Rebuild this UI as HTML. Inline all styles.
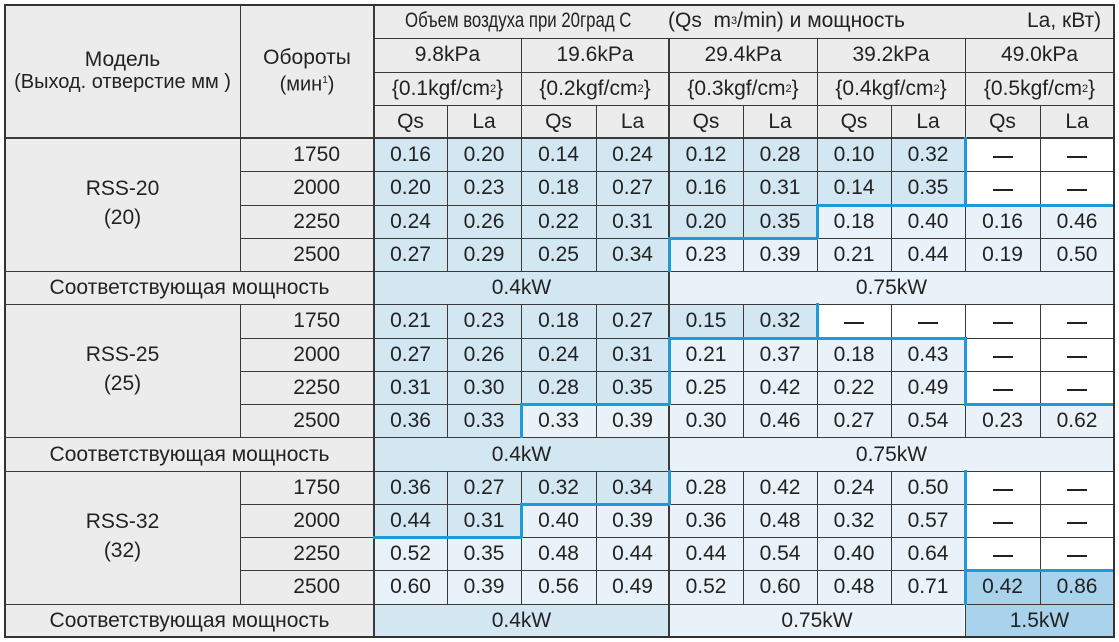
<!DOCTYPE html>
<html><head><meta charset="utf-8"><style>
body{margin:0;width:1119px;height:642px;background:#fff;position:relative;overflow:hidden;font-family:"Liberation Sans",sans-serif;color:#222}
.c{position:absolute;box-sizing:border-box;display:flex;align-items:center;justify-content:center;font-size:21px;white-space:nowrap}
.ln{position:absolute;background:#3a3a3a}
.bl{position:absolute;background:#1e9bd7}
</style></head><body>
<div id="r"></div>
<script>
var X=[5,240,374,447,521,596,669,743,817,891,965,1040,1114];
function Y(i){return Math.round(5+i*33.26);}
var H='';
function cell(x1,y1,x2,y2,bg,txt,st){H+='<div class="c" style="left:'+x1+'px;top:'+y1+'px;width:'+(x2-x1)+'px;height:'+(y2-y1)+'px;background:'+bg+';'+(st||'')+'">'+(txt||'')+'</div>';}
var G='#ececec',CL={B:'#d3e7f3',L:'#e8f2f8',W:'#ffffff',D:'#a9d3ec'};
cell(5,5,1114,Y(4),G);
var P=['9.8kPa','19.6kPa','29.4kPa','39.2kPa','49.0kPa'];
for(var k=0;k<5;k++){
 cell(X[2+2*k],Y(1),X[4+2*k],Y(2),G,P[k]);
 cell(X[2+2*k],Y(2),X[4+2*k],Y(3),G,'{0.'+(k+1)+'kgf/cm<sup style="font-size:11px">2</sup>}');
 cell(X[2+2*k],Y(3),X[3+2*k],Y(4),G,'Qs');cell(X[3+2*k],Y(3),X[4+2*k],Y(4),G,'La');
}
H+='<div class="c" style="left:5px;top:46px;width:235px;height:50px;flex-direction:column;line-height:23px">Модель<span style="font-size:20px">(Выход. отверстие мм )</span></div>';
H+='<div class="c" style="left:240px;top:46px;width:134px;height:50px;flex-direction:column;line-height:23px">Обороты<span style="font-size:20px">(мин<sup style="font-size:10px">1</sup>)</span></div>';
H+='<div class="c" style="left:405px;top:6px;height:30px;justify-content:flex-start;font-size:21px;transform:scaleX(0.8);transform-origin:left">Объем воздуха при 20град С</div>';
H+='<div class="c" style="left:668px;top:6px;height:30px;justify-content:flex-start;font-size:21px">(Qs&nbsp; m<sup style="font-size:11px">3</sup>/min) и мощность</div>';
H+='<div class="c" style="left:1027px;top:6px;height:30px;justify-content:flex-start;font-size:21px">La, кВт)</div>';
var data=[
 ['RSS-20','(20)',[
  ['1750','0.16 0.20 0.14 0.24 0.12 0.28 0.10 0.32 – –','BBBBBBBBWW'],
  ['2000','0.20 0.23 0.18 0.27 0.16 0.31 0.14 0.35 – –','BBBBBBBBWW'],
  ['2250','0.24 0.26 0.22 0.31 0.20 0.35 0.18 0.40 0.16 0.46','BBBBBBLLLL'],
  ['2500','0.27 0.29 0.25 0.34 0.23 0.39 0.21 0.44 0.19 0.50','BBBBLLLLLL']],[[2,6,'B','0.4kW'],[6,12,'L','0.75kW']]],
 ['RSS-25','(25)',[
  ['1750','0.21 0.23 0.18 0.27 0.15 0.32 – – – –','BBBBBBWWWW'],
  ['2000','0.27 0.26 0.24 0.31 0.21 0.37 0.18 0.43 – –','BBBBLLLLWW'],
  ['2250','0.31 0.30 0.28 0.35 0.25 0.42 0.22 0.49 – –','BBBBLLLLWW'],
  ['2500','0.36 0.33 0.33 0.39 0.30 0.46 0.27 0.54 0.23 0.62','BBLLLLLLLL']],[[2,6,'B','0.4kW'],[6,12,'L','0.75kW']]],
 ['RSS-32','(32)',[
  ['1750','0.36 0.27 0.32 0.34 0.28 0.42 0.24 0.50 – –','BBBBLLLLWW'],
  ['2000','0.44 0.31 0.40 0.39 0.36 0.48 0.32 0.57 – –','BBLLLLLLWW'],
  ['2250','0.52 0.35 0.48 0.44 0.44 0.54 0.40 0.64 – –','LLLLLLLLWW'],
  ['2500','0.60 0.39 0.56 0.49 0.52 0.60 0.48 0.71 0.42 0.86','LLLLLLLLDD']],[[2,6,'B','0.4kW'],[6,10,'L','0.75kW'],[10,12,'D','1.5kW']]]
];
var L='';
function hl(x1,x2,y,w,c){L+='<div class="'+c+'" style="left:'+x1+'px;top:'+(y-Math.floor(w/2))+'px;width:'+(x2-x1)+'px;height:'+w+'px"></div>';}
function vl(x,y1,y2,w,c){L+='<div class="'+c+'" style="left:'+(x-Math.floor(w/2))+'px;top:'+y1+'px;width:'+w+'px;height:'+(y2-y1)+'px"></div>';}
var BL='';
function bh(x1,x2,y){BL+='<div class="bl" style="left:'+(x1-1)+'px;top:'+(y-1)+'px;width:'+(x2-x1+2)+'px;height:3px"></div>';}
function bv(x,y1,y2){BL+='<div class="bl" style="left:'+(x-1)+'px;top:'+(y1-1)+'px;width:3px;height:'+(y2-y1+2)+'px"></div>';}
for(var b=0;b<3;b++){
 var r0=4+b*5,d=data[b];
 cell(5,Y(r0),240,Y(r0+4),G);
 H+='<div class="c" style="left:5px;top:'+(Y(r0)+36)+'px;width:235px;height:58px;flex-direction:column;line-height:29px"><span>'+d[0]+'</span><span>'+d[1]+'</span></div>';
 for(var i=0;i<4;i++){
  var row=d[2][i],vals=row[1].split(' '),cls=row[2],y1=Y(r0+i),y2=Y(r0+i+1);
  cell(240,y1,374,y2,G,row[0],'justify-content:flex-end;padding-right:34px');
  for(var j=0;j<10;j++){
   var v=vals[j]=='–'?'<span style="display:inline-block;width:20px;height:2px;margin-top:4px;background:#222"></span>':vals[j];
   cell(X[2+j],y1,X[3+j],y2,CL[cls[j]],v);
   if(j<9&&cls[j]!=cls[j+1])bv(X[3+j],y1,y2);
   if(i<3&&cls[j]!=d[2][i+1][2][j])bh(X[2+j],X[3+j],y2);
  }
 }
}
for(var i=1;i<19;i++){
 var y=Y(i);
 if(i<4){hl(374,1114,y,1,'ln');continue;}
 if(i==4||i==8||i==9||i==13||i==14||i==18){hl(5,1114,y,i==4?2:1,'ln');continue;}
 hl(240,1114,y,1,'ln');
}
vl(240,5,Y(4),1,'ln');vl(374,5,637,2,'ln');
for(var b=0;b<3;b++){vl(240,Y(4+b*5),Y(8+b*5),1,'ln');}
for(var k=3;k<12;k++){
 if(k%2==0){vl(X[k],Y(1),637,k==6?2:1,'ln');}
 else{vl(X[k],Y(3),637,1,'ln');}
}
var PR='';
for(var b=0;b<3;b++){
 var yp1=Y(8+b*5)+1,yp2=Y(9+b*5);
 data[b][3].forEach(function(p){PR+='<div class="c" style="left:'+(X[p[0]]+1)+'px;top:'+yp1+'px;width:'+(X[p[1]]-X[p[0]]-2)+'px;height:'+(yp2-yp1)+'px;background:'+CL[p[2]]+'">'+p[3]+'</div>';});
 PR+='<div class="c" style="left:6px;top:'+yp1+'px;width:367px;height:'+(yp2-yp1)+'px;background:'+G+'">Соответствующая мощность</div>';
}
var savedL=L;L='';
vl(669,Y(8),Y(9),2,'ln');vl(669,Y(13),Y(14),2,'ln');vl(669,Y(18),637,2,'ln');vl(965,Y(18),637,1,'ln');
var L2=L;
document.getElementById('r').innerHTML=H+savedL+PR+L2+BL+'<div style="position:absolute;left:4px;top:4px;width:1111px;height:634px;border:2px solid #333;box-sizing:border-box"></div>';
</script>
</body></html>
